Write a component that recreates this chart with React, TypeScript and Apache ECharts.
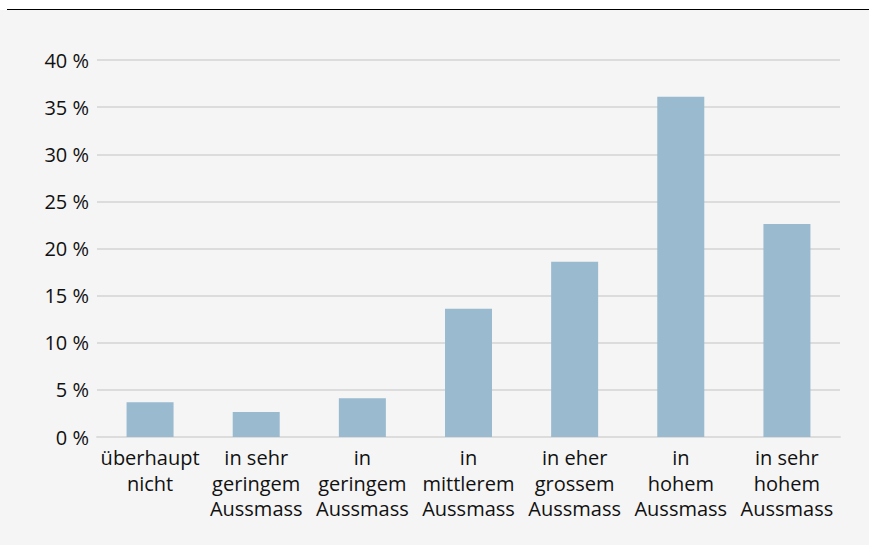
import React, { useEffect, useRef } from "react";
import * as echarts from "echarts";

const categories = [
  "überhaupt\nnicht",
  "in sehr\ngeringem\nAussmass",
  "in\ngeringem\nAussmass",
  "in\nmittlerem\nAussmass",
  "in eher\ngrossem\nAussmass",
  "in\nhohem\nAussmass",
  "in sehr\nhohem\nAussmass",
];
const values = [3.7, 2.65, 4.1, 13.6, 18.6, 36.1, 22.6];

export default function App() {
  const ref = useRef<HTMLDivElement>(null);
  useEffect(() => {
    if (!ref.current) return;
    const chart = echarts.init(ref.current, null, { renderer: "svg" });
    const font = "'Open Sans', 'Noto Sans', sans-serif";
    chart.setOption({
      animation: false,
      backgroundColor: "#ffffff",
      graphic: [
        { type: "rect", z: -10, shape: { x: 0, y: 10, width: 869, height: 535 }, style: { fill: "#f5f5f5" } },
        { type: "line", shape: { x1: 7, y1: 9.5, x2: 869, y2: 9.5 }, style: { stroke: "#000000", lineWidth: 1 } },
      ],
      grid: { left: 97, right: 29, top: 60, bottom: 108, containLabel: false },
      xAxis: {
        type: "category",
        data: categories,
        axisLine: { show: true, lineStyle: { color: "#dcdcdc", width: 2 } },
        axisTick: { show: false },
        axisLabel: {
          interval: 0,
          color: "#111111",
          fontFamily: font,
          fontSize: 20,
          lineHeight: 25.5,
          margin: 8,
        },
      },
      yAxis: {
        type: "value",
        min: 0,
        max: 40,
        interval: 5,
        axisLine: { show: false },
        axisTick: { show: false },
        splitLine: { lineStyle: { color: "#dcdcdc", width: 2 } },
        axisLabel: {
          formatter: "{value} %",
          color: "#111111",
          fontFamily: font,
          fontSize: 20,
          margin: 8,
        },
      },
      series: [
        {
          type: "bar",
          data: values,
          barWidth: 47,
          itemStyle: { color: "#99bacf" },
        },
      ],
    });
    return () => chart.dispose();
  }, []);
  return (
    <div
      ref={ref}
      style={{ position: "absolute", left: 0, top: 0, width: 869, height: 545 }}
    />
  );
}
